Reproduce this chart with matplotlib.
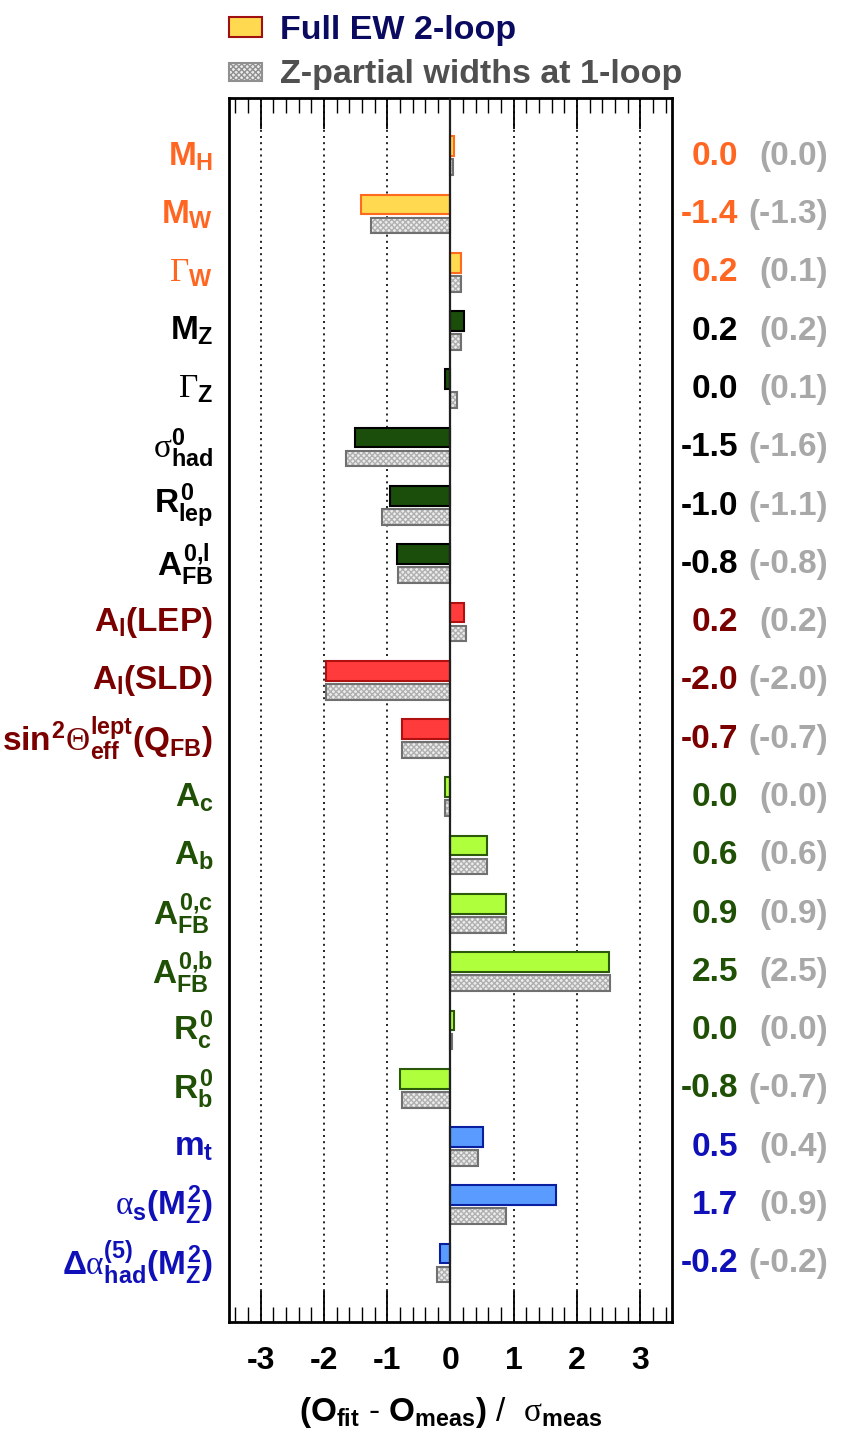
import numpy as np
import matplotlib
matplotlib.use('Agg')
import matplotlib.pyplot as plt
from matplotlib.patches import Rectangle

plt.rcParams['font.family'] = ['Liberation Sans', 'DejaVu Sans']
plt.rcParams['font.weight'] = 'bold'
plt.rcParams['mathtext.fontset'] = 'custom'
plt.rcParams['mathtext.rm'] = 'Liberation Sans:bold'
plt.rcParams['mathtext.it'] = 'Liberation Sans:bold'
plt.rcParams['mathtext.bf'] = 'Liberation Sans:bold'
plt.rcParams['mathtext.sf'] = 'Liberation Sans:bold'
plt.rcParams['mathtext.cal'] = 'Liberation Serif:weight=normal'

# observables (top to bottom)
labels = [r'$M_H$', r'$M_W$', r'$\mathcal{\Gamma}_W$', r'$M_Z$', r'$\mathcal{\Gamma}_Z$',
          r'$\mathcal{\sigma}^0_{had}$', r'$R^0_{lep}$', r'$A^{0{,}l}_{FB}$',
          r'$A_l(LEP)$', r'$A_l(SLD)$', r'$sin^2\mathcal{\Theta}^{lept}_{eff}(Q_{FB})$',
          r'$A_c$', r'$A_b$', r'$A^{0{,}c}_{FB}$', r'$A^{0{,}b}_{FB}$', r'$R^0_c$', r'$R^0_b$',
          r'$m_t$', r'$\mathcal{\alpha}_s(M^2_Z)$', r'$\Delta\mathcal{\alpha}^{(5)}_{had}(M^2_Z)$']

# pulls: full EW 2-loop and Z-partial widths at 1-loop
pull_2loop = [0.05, -1.42, 0.16, 0.22, -0.08, -1.51, -0.96, -0.85, 0.22, -1.97, -0.76,
              -0.08, 0.58, 0.88, 2.50, 0.06, -0.79, 0.52, 1.67, -0.17]
pull_1loop = [0.04, -1.26, 0.16, 0.16, 0.11, -1.65, -1.09, -0.83, 0.24, -1.97, -0.76,
              -0.08, 0.58, 0.88, 2.52, 0.03, -0.76, 0.44, 0.87, -0.22]
text_2loop = ['0.0', '-1.4', '0.2', '0.2', '0.0', '-1.5', '-1.0', '-0.8', '0.2', '-2.0', '-0.7',
              '0.0', '0.6', '0.9', '2.5', '0.0', '-0.8', '0.5', '1.7', '-0.2']
text_1loop = ['0.0', '-1.3', '0.1', '0.2', '0.1', '-1.6', '-1.1', '-0.8', '0.2', '-2.0', '-0.7',
              '0.0', '0.6', '0.9', '2.5', '0.0', '-0.7', '0.4', '0.9', '-0.2']
group = [0, 0, 0, 1, 1, 1, 1, 1, 2, 2, 2, 3, 3, 3, 3, 3, 3, 4, 4, 4]

# per group: label colour, bar fill, bar edge
label_col = ['#FF6622', '#000000', '#7A0000', '#1F5005', '#1010B8']
bar_fill = ['#FFD94F', '#1B4D0B', '#FF3B3B', '#B0FF3C', '#5A9BFF']
bar_edge = ['#FF6A1F', '#000000', '#B01010', '#2A5A0A', '#0A1FA0']

fig = plt.figure(figsize=(8.58, 14.46), dpi=100)
ax = fig.add_axes([0.2669, 0.0857, 0.5163, 0.8465])

n = len(labels)
rows = np.arange(n)
for i in range(n):
    g = group[i]
    ax.barh(rows[i] + 0.825, pull_2loop[i], height=0.34, color=bar_fill[g],
            edgecolor=bar_edge[g], linewidth=1.5, zorder=3)
    ax.barh(rows[i] + 1.185, pull_1loop[i], height=0.27, color='#ececec',
            edgecolor='#b0b0b0', linewidth=0, hatch='xxxxxx', zorder=3)
    ax.barh(rows[i] + 1.185, pull_1loop[i], height=0.27, fill=False,
            edgecolor='#707070', linewidth=1.5, zorder=4)
    ax.text(-0.036, rows[i] + 1.0, labels[i], transform=ax.get_yaxis_transform(),
            ha='right', va='center', fontsize=24, color=label_col[g])
    ax.text(1.149, rows[i] + 1.0, text_2loop[i], transform=ax.get_yaxis_transform(),
            ha='right', va='center', fontsize=24, color=label_col[g], fontweight='bold')
    ax.text(1.353, rows[i] + 1.0, '(' + text_1loop[i] + ')', transform=ax.get_yaxis_transform(),
            ha='right', va='center', fontsize=24, color='#A8A8A8', fontweight='bold')

for xv in [-3, -2, -1, 1, 2, 3]:
    ax.axvline(xv, color='black', linestyle=(0, (1.2, 2.5)), linewidth=1.2, zorder=1)
ax.axvline(0, color='#202020', linewidth=1.6, zorder=5)

ax.set_xlim(-3.5, 3.5)
ax.set_ylim(21, 0)
ax.set_xticks([-3, -2, -1, 0, 1, 2, 3])
ax.set_xticklabels(['-3', '-2', '-1', '0', '1', '2', '3'], fontsize=23, fontweight='bold')
ax.set_xticks(np.arange(-3.4, 3.5, 0.2), minor=True)
ax.tick_params(axis='x', which='major', direction='in', length=22, width=1.3, top=True, pad=17)
ax.tick_params(axis='x', which='minor', direction='in', length=11, width=1.0, top=True)
ax.set_yticks([])
for s in ax.spines.values():
    s.set_linewidth(2)
ax.set_xlabel(r'$(O_{fit}$ - $O_{meas})$ /  $\mathcal{\sigma}_{meas}$', fontsize=24, labelpad=14)

# legend
fig.patches.append(Rectangle((229 / 858, 1 - 37 / 1446), 33 / 858, 20 / 1446,
                             transform=fig.transFigure, facecolor='#FFD94F',
                             edgecolor='#A01010', linewidth=1.5))
fig.patches.append(Rectangle((229 / 858, 1 - 81 / 1446), 33 / 858, 18 / 1446,
                             transform=fig.transFigure, facecolor='#ececec',
                             edgecolor='#909090', linewidth=1.5, hatch='xxxxxx'))
fig.text(280 / 858, 1 - 30 / 1446, 'Full EW 2-loop', fontsize=24.5, fontweight='bold',
         color='#0A0A60', va='center')
fig.text(280 / 858, 1 - 74 / 1446, 'Z-partial widths at 1-loop', fontsize=24.5, fontweight='bold',
         color='#505050', va='center')

fig.savefig('out.png', dpi=100)
